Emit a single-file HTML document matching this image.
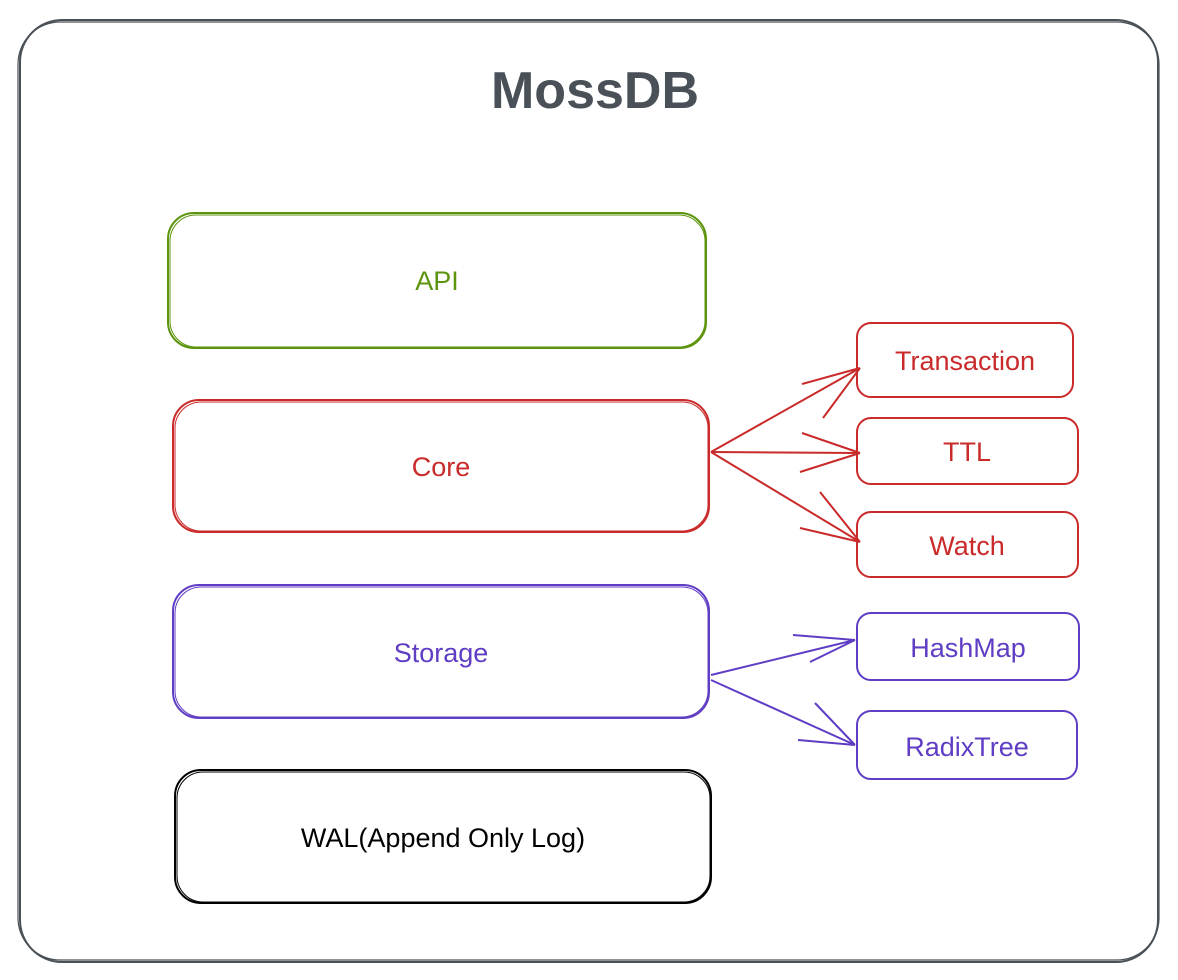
<!DOCTYPE html>
<html><head><meta charset="utf-8"><style>
html,body{margin:0;padding:0;background:#fff;width:1178px;height:980px;overflow:hidden}
text{font-family:"Liberation Sans",sans-serif}
</style></head><body>
<svg width="1178" height="980" viewBox="0 0 1178 980" xmlns="http://www.w3.org/2000/svg">
<rect x="20" y="20" width="1138" height="942" rx="42" fill="#fff" stroke="#495057" stroke-width="2"/>
<rect x="18" y="22" width="1141" height="938" rx="42" fill="none" stroke="#495057" stroke-width="1.2"/>
<text x="595" y="108" font-size="52" font-weight="600" fill="#495057" text-anchor="middle">MossDB</text>

<g fill="none" stroke-width="2">
<rect x="168" y="213" width="538" height="135" rx="26" stroke="#5c940d"/>
<rect x="170" y="215" width="535" height="132" rx="26" stroke="#5c940d" stroke-width="1"/>
<rect x="173" y="400" width="536" height="132" rx="26" stroke="#c92a2a"/>
<rect x="175" y="402" width="533" height="129" rx="26" stroke="#c92a2a" stroke-width="1"/>
<rect x="173" y="585" width="536" height="133" rx="26" stroke="#5f3dc4"/>
<rect x="175" y="587" width="533" height="130" rx="26" stroke="#5f3dc4" stroke-width="1"/>
<rect x="175" y="770" width="536" height="133" rx="26" stroke="#000"/>
<rect x="177" y="772" width="533" height="130" rx="26" stroke="#000" stroke-width="1"/>

<rect x="857" y="323" width="216" height="74" rx="14" stroke="#c92a2a"/>
<rect x="857" y="418" width="221" height="66" rx="14" stroke="#c92a2a"/>
<rect x="857" y="512" width="221" height="65" rx="14" stroke="#c92a2a"/>
<rect x="857" y="613" width="222" height="67" rx="14" stroke="#5f3dc4"/>
<rect x="857" y="711" width="220" height="68" rx="14" stroke="#5f3dc4"/>

<g stroke="#c92a2a">
<path d="M711 452 L860 368 M802 384 L860 368 M823 418 L860 368"/>
<path d="M711 452 L860 453 M802 433 L860 453 M800 472 L860 453"/>
<path d="M711 452 L860 542 M820 492 L860 542 M800 528 L860 542"/>
</g>
<g stroke="#5f3dc4">
<path d="M711 675 L855 640 M793 635 L855 640 M810 662 L855 640"/>
<path d="M711 680 L855 745 M815 703 L855 745 M798 740 L855 745"/>
</g>
</g>

<g font-size="27" text-anchor="middle">
<text x="437" y="290" fill="#5c940d">API</text>
<text x="441" y="476" fill="#c92a2a">Core</text>
<text x="441" y="662" fill="#5f3dc4">Storage</text>
<text x="443" y="847" fill="#000">WAL(Append Only Log)</text>
<text x="965" y="370" fill="#c92a2a">Transaction</text>
<text x="967" y="461" fill="#c92a2a">TTL</text>
<text x="967" y="555" fill="#c92a2a">Watch</text>
<text x="968" y="657" fill="#5f3dc4">HashMap</text>
<text x="967" y="756" fill="#5f3dc4">RadixTree</text>
</g>
</svg>
</body></html>
